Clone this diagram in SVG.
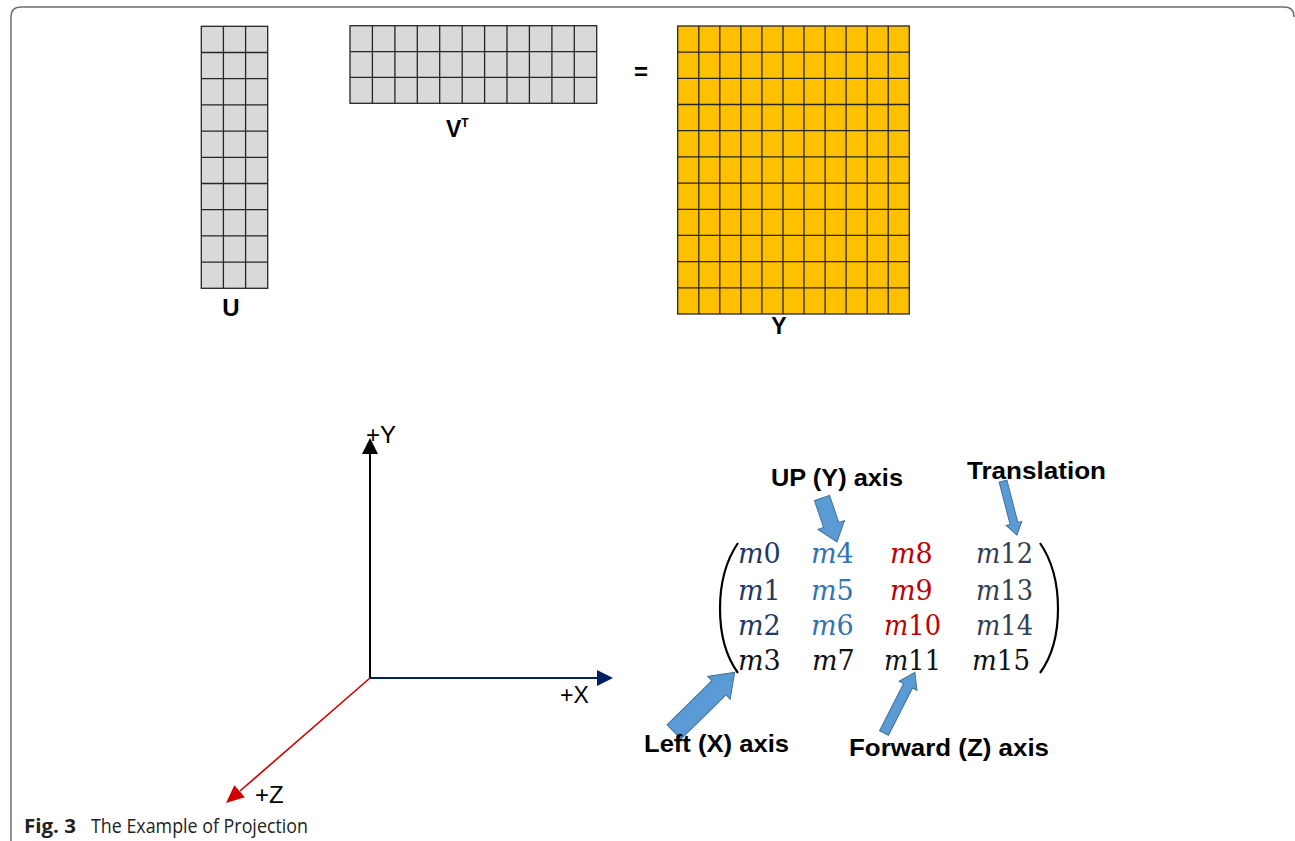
<svg xmlns="http://www.w3.org/2000/svg" width="1295" height="841" viewBox="0 0 1295 841">
<style>
.gray{fill:#d9d9d9;stroke:#262626;stroke-width:1.3}
.gold{fill:#ffc000;stroke:#262626;stroke-width:1.3}
.grid{fill:none;stroke:#262626;stroke-width:1.3}
.lbl{font-family:"Liberation Sans",Arial,sans-serif;font-weight:bold;fill:#000}
.ax{font-family:"Liberation Sans",Arial,sans-serif;fill:#000}
.cal{font-family:"Liberation Sans",Arial,sans-serif;font-weight:bold;font-size:24px;fill:#000}
.m{font-family:"DejaVu Serif",serif;font-size:27px}
.m tspan.i{font-style:italic}
.barrow{fill:#5b9bd5;stroke:#41719c;stroke-width:1}
</style>
<rect width="1295" height="841" fill="#fff"/>
<path d="M11,841 V17 Q11,7 21,7 H1284 Q1294,7 1294,17" fill="none" stroke="#6d6d6d" stroke-width="1.5"/>

<g id="matrix-U">
<rect class="gray" x="201.3" y="26.3" width="66.4" height="262"/>
<path class="grid" d="M223.4,26.3V288.3M245.6,26.3V288.3M201.3,52.5H267.7M201.3,78.7H267.7M201.3,104.9H267.7M201.3,131.1H267.7M201.3,157.3H267.7M201.3,183.5H267.7M201.3,209.7H267.7M201.3,235.9H267.7M201.3,262.1H267.7"/>
<text class="lbl" x="231" y="316" font-size="24" text-anchor="middle">U</text>
</g>

<g id="matrix-VT">
<rect class="gray" x="350" y="25.7" width="246.7" height="77.6"/>
<path class="grid" d="M372.4,25.7V103.3M394.9,25.7V103.3M417.3,25.7V103.3M439.7,25.7V103.3M462.2,25.7V103.3M484.6,25.7V103.3M507,25.7V103.3M529.4,25.7V103.3M551.9,25.7V103.3M574.3,25.7V103.3M350,51.6H596.7M350,77.4H596.7"/>
<text class="lbl" x="446" y="137" font-size="23">V<tspan font-size="12" dy="-10">T</tspan></text>
</g>

<g id="equals">
<text class="lbl" x="641" y="80" font-size="24" text-anchor="middle">=</text>
</g>

<g id="matrix-Y">
<rect class="gold" x="677.7" y="26" width="231.6" height="288"/>
<path class="grid" d="M698.8,26V314M719.8,26V314M740.9,26V314M761.9,26V314M783,26V314M804,26V314M825.1,26V314M846.1,26V314M867.2,26V314M888.2,26V314M677.7,52.2H909.3M677.7,78.4H909.3M677.7,104.5H909.3M677.7,130.7H909.3M677.7,156.9H909.3M677.7,183.1H909.3M677.7,209.3H909.3M677.7,235.4H909.3M677.7,261.6H909.3M677.7,287.8H909.3"/>
<text class="lbl" x="779" y="334" font-size="23" text-anchor="middle">Y</text>
</g>

<g id="connectors">
<line x1="370" y1="678" x2="370" y2="452" stroke="#000" stroke-width="2"/>
<polygon points="370,438 362,454 378,454" fill="#000"/>
<line x1="370" y1="678" x2="598" y2="678" stroke="#002060" stroke-width="2"/>
<polygon points="613,678 597,670 597,686" fill="#002060"/>
<line x1="370" y1="678" x2="240" y2="791" stroke="#d00000" stroke-width="1.6"/>
<polygon points="226,803 244.8,797.2 234.4,785.2" fill="#d00000"/>
<polygon class="barrow" transform="translate(822,498) rotate(71.2)" points="0,-8 28.5,-8 28.5,-14 46.5,0 28.5,14 28.5,8 0,8"/>
<polygon class="barrow" transform="translate(1003,481) rotate(75.5)" points="0,-4 43.8,-4 43.8,-8 55.8,0 43.8,8 43.8,4 0,4"/>
<polygon class="barrow" transform="translate(674,732) rotate(-44.5)" points="0,-10 63,-10 63,-16 85,0 63,16 63,10 0,10"/>
<polygon class="barrow" transform="translate(884,733) rotate(-63)" points="0,-5 53,-5 53,-10 68,0 53,10 53,5 0,5"/>
</g>

<g id="axis-labels">
<text class="ax" x="366" y="443" font-size="24">+Y</text>
<text class="ax" x="560" y="703" font-size="23">+X</text>
<text class="ax" x="255" y="803" font-size="24">+Z</text>
</g>

<g id="transform-matrix">
<path d="M738,543 C714,578 714,640 738,673" fill="none" stroke="#000" stroke-width="2.2"/>
<path d="M1040,543 C1064,578 1064,640 1040,673" fill="none" stroke="#000" stroke-width="2.2"/>
<g class="m" fill="#1f3864">
<text x="738" y="563"><tspan class="i">m</tspan>0</text>
<text x="738" y="600"><tspan class="i">m</tspan>1</text>
<text x="738" y="635"><tspan class="i">m</tspan>2</text>
</g>
<g class="m" fill="#2e75b6">
<text x="811" y="563"><tspan class="i">m</tspan>4</text>
<text x="811" y="600"><tspan class="i">m</tspan>5</text>
<text x="811" y="635"><tspan class="i">m</tspan>6</text>
</g>
<g class="m" fill="#c00000">
<text x="890" y="563"><tspan class="i">m</tspan>8</text>
<text x="890" y="600"><tspan class="i">m</tspan>9</text>
<text x="884" y="635" textLength="57" lengthAdjust="spacingAndGlyphs"><tspan class="i">m</tspan>10</text>
</g>
<g class="m" fill="#333f50">
<text x="976" y="563" textLength="57" lengthAdjust="spacingAndGlyphs"><tspan class="i">m</tspan>12</text>
<text x="976" y="600" textLength="57" lengthAdjust="spacingAndGlyphs"><tspan class="i">m</tspan>13</text>
<text x="976" y="635" textLength="57" lengthAdjust="spacingAndGlyphs"><tspan class="i">m</tspan>14</text>
</g>
<g class="m" fill="#111">
<text x="738" y="670"><tspan class="i">m</tspan>3</text>
<text x="812" y="670"><tspan class="i">m</tspan>7</text>
<text x="884" y="670" textLength="57" lengthAdjust="spacingAndGlyphs"><tspan class="i">m</tspan>11</text>
<text x="972" y="670" textLength="58" lengthAdjust="spacingAndGlyphs"><tspan class="i">m</tspan>15</text>
</g>
</g>

<g id="label-up">
<text class="cal" x="771" y="486" textLength="132" lengthAdjust="spacingAndGlyphs">UP (Y) axis</text>
</g>
<g id="label-translation">
<text class="cal" x="967" y="479" textLength="139" lengthAdjust="spacingAndGlyphs">Translation</text>
</g>
<g id="label-left">
<text class="cal" x="644" y="752" textLength="145" lengthAdjust="spacingAndGlyphs">Left (X) axis</text>
</g>
<g id="label-forward">
<text class="cal" x="849" y="756" textLength="200" lengthAdjust="spacingAndGlyphs">Forward (Z) axis</text>
</g>

<g id="caption">
<text x="24" y="833" font-family="'Open Sans','Liberation Sans',sans-serif" font-size="20" fill="#222"><tspan font-weight="bold" textLength="52" lengthAdjust="spacingAndGlyphs">Fig. 3</tspan><tspan x="91" textLength="217" lengthAdjust="spacingAndGlyphs">The Example of Projection</tspan></text>
</g>
</svg>
